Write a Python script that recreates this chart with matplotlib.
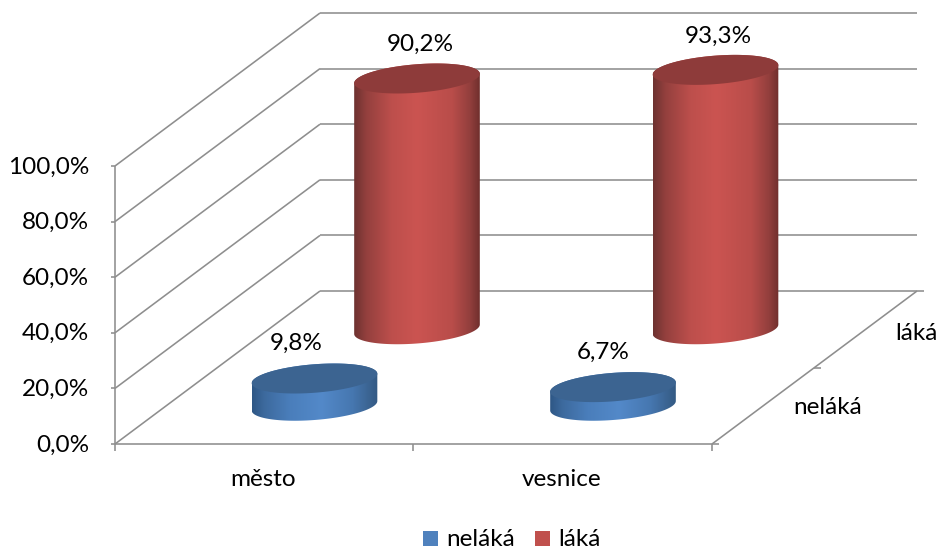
import numpy as np
import matplotlib
matplotlib.use("Agg")
import matplotlib.pyplot as plt
from matplotlib.path import Path
from matplotlib.patches import PathPatch, Rectangle
from matplotlib.colors import LinearSegmentedColormap

plt.rcParams['font.family'] = ['Lato', 'DejaVu Sans']

categories = ['město', 'vesnice']
series_names = ['neláká', 'láká']
nelaka = [9.8, 6.7]
laka = [90.2, 93.3]
value_ticks = [0, 20, 40, 60, 80, 100]
value_labels = ['0,0%', '20,0%', '40,0%', '60,0%', '80,0%', '100,0%']

fig = plt.figure(figsize=(9.41, 5.50), dpi=100)
ax = fig.add_axes([0, 0, 1, 1])
ax.set_xlim(0, 941)
ax.set_ylim(550, 0)
ax.axis('off')

X0, Y0, WIDTH, DX, DY, VSCALE = 115.0, 444.0, 597.0, 205.0, -153.0, 2.78
FS = 17.5

def proj(u, d, v):
    """u: 0-1 along categories, d: 0-1 along depth, v: percent."""
    return X0 + WIDTH * u + DX * d, Y0 + DY * d - VSCALE * v

GRID = '#8e8e8e'
LW = 1.15
def seg(a, b):
    ax.plot([a[0], b[0]], [a[1], b[1]], color=GRID, lw=LW, solid_capstyle='butt', zorder=1)

for v in value_ticks:
    seg(proj(0, 0, v), proj(0, 1, v))
    seg(proj(0, 1, v), proj(1, 1, v))
    x, y = proj(0, 0, v)
    seg((x - 4, y), (x, y))
    ax.text(x - 26, y + 1, value_labels[value_ticks.index(v)], ha='right', va='center',
            fontsize=FS, color='black')
seg(proj(0, 0, 0), proj(0, 0, 100))
seg(proj(0, 0, 0), proj(1, 0, 0))
seg(proj(1, 0, 0), proj(1, 1, 0))
for u in (0, 0.5, 1):
    x, y = proj(u, 0, 0)
    seg((x, y), (x, y + 7))
for d in (0, 0.5, 1):
    x, y = proj(1, d, 0)
    seg((x, y), (x + 7, y))

A, B, THETA = 63.0, 14.2, np.radians(-4.5)

def ell(cx, cy, t):
    return (cx + A * np.cos(t) * np.cos(THETA) - B * np.sin(t) * np.sin(THETA),
            cy + A * np.cos(t) * np.sin(THETA) + B * np.sin(t) * np.cos(THETA))

def cylinder(u, d, v, cols, top_col, z):
    bx, by = proj(u, d, 0)
    tx, ty = proj(u, d, v)
    bx -= 1
    tx -= 1
    t0 = np.arctan2(-B * np.sin(THETA), A * np.cos(THETA))
    low = np.linspace(t0 + np.pi, t0, 80)
    up = np.linspace(t0, t0 - np.pi, 80)
    xb, yb = ell(bx, by, low)
    xt, yt = ell(tx, ty, up)
    pts = np.column_stack([np.r_[xb, xt], np.r_[yb, yt]])
    body = Path(np.vstack([pts, pts[0]]), closed=True)
    cmap = LinearSegmentedColormap.from_list('c', cols)
    grad = np.linspace(0, 1, 256).reshape(1, -1)
    x0, x1 = pts[:, 0].min(), pts[:, 0].max()
    im = ax.imshow(grad, cmap=cmap, extent=[x0, x1, by + 25, ty - 25], aspect='auto', zorder=z,
                   interpolation='bilinear')
    im.set_clip_path(PathPatch(body, transform=ax.transData))
    tt = np.linspace(0, 2 * np.pi, 160)
    xe, ye = ell(tx, ty, tt)
    ax.fill(xe, ye, color=top_col, lw=0, zorder=z + 0.1)

RED = [(0, '#6e3230'), (0.1, '#94403e'), (0.3, '#bd4f4c'), (0.5, '#cb5451'),
       (0.78, '#b94d4a'), (0.92, '#933f3d'), (1, '#702f2d')]
BLUE = [(0, '#2e5785'), (0.1, '#3d6a9e'), (0.3, '#4a7ebb'), (0.55, '#5389c9'),
        (0.8, '#4677b0'), (0.93, '#3b6492'), (1, '#335a84')]

for i in range(2):
    u = 0.25 + 0.5 * i
    cylinder(u, 0.75, laka[i], RED, '#8e3b3a', 3)
    cylinder(u, 0.25, nelaka[i], BLUE, '#3c6491', 5)
ax.set_xlim(0, 941)
ax.set_ylim(550, 0)

def fmt(v):
    return f'{v:.1f}'.replace('.', ',') + '%'

for i in range(2):
    u = 0.25 + 0.5 * i
    x, y = proj(u, 0.75, laka[i])
    ax.text(x + 2, y - 34, fmt(laka[i]), ha='center', va='center', fontsize=FS, zorder=8)
    x, y = proj(u, 0.25, nelaka[i])
    ax.text(x - 19 + 8 * i, y - 35, fmt(nelaka[i]), ha='center', va='center', fontsize=FS, zorder=8)
    x, y = proj(u, 0, 0)
    ax.text(x - 1, y + 35, categories[i], ha='center', va='center', fontsize=FS)

ax.text(793, 408, series_names[0], ha='left', va='center', fontsize=FS)
ax.text(895, 333, series_names[1], ha='left', va='center', fontsize=FS)

ax.add_patch(Rectangle((423, 531), 15, 15, color='#4f81bd', lw=0))
ax.text(446, 539.5, series_names[0], ha='left', va='center', fontsize=FS)
ax.add_patch(Rectangle((535, 531), 15, 15, color='#c0504d', lw=0))
ax.text(558, 539.5, series_names[1], ha='left', va='center', fontsize=FS)

fig.savefig('out.png', dpi=100)
